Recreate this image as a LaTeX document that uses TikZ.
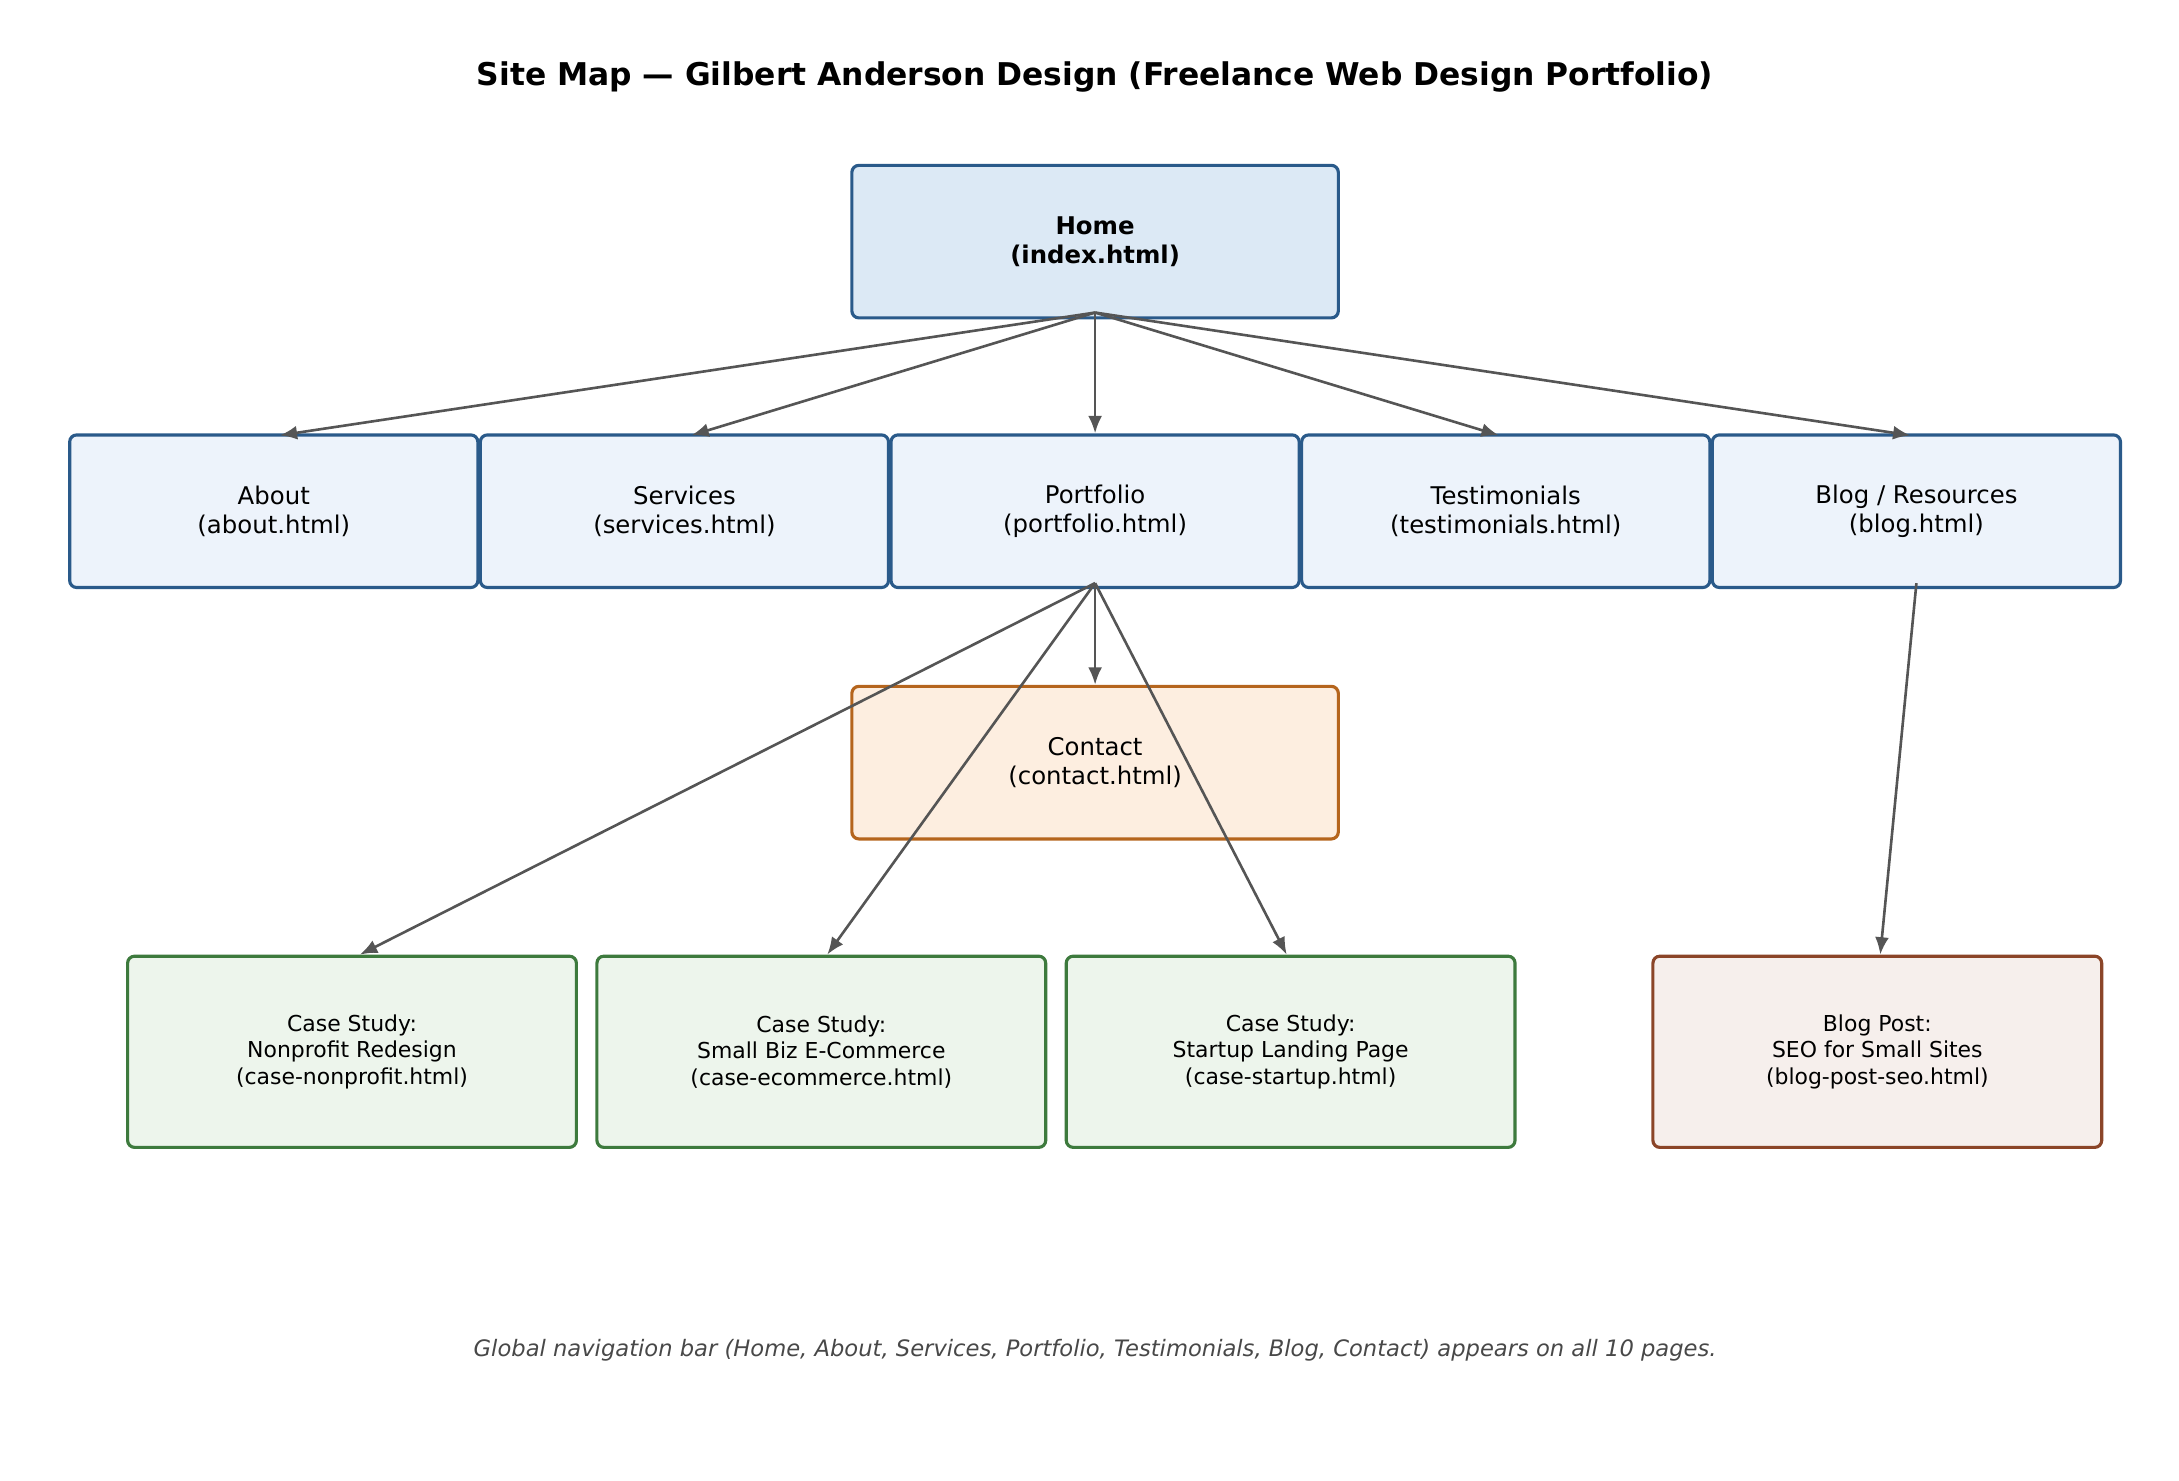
\documentclass[tikz,border=0pt]{standalone}
\usepackage{fontspec}
\setmainfont{DejaVu Sans}
\usetikzlibrary{arrows.meta}
\definecolor{HomeFill}{HTML}{DCE9F5}
\definecolor{PageFill}{HTML}{EDF3FB}
\definecolor{BlueLine}{HTML}{2A5A8A}
\definecolor{ContactFill}{HTML}{FDEEE0}
\definecolor{ContactLine}{HTML}{B5651D}
\definecolor{CaseFill}{HTML}{EDF5EC}
\definecolor{CaseLine}{HTML}{3D7A3D}
\definecolor{PostFill}{HTML}{F6EFEC}
\definecolor{PostLine}{HTML}{8B4528}
\definecolor{LinkGray}{HTML}{555555}
\tikzset{
  page/.style={draw=BlueLine,fill=PageFill,line width=0.9pt,rounded corners=2pt,
    minimum width=4.12cm,minimum height=1.54cm,align=center,font=\fontsize{7}{8.2}\selectfont},
  case/.style={page,draw=CaseLine,fill=CaseFill,minimum width=4.53cm,minimum height=1.93cm,
    font=\fontsize{6.3}{7.6}\selectfont},
  link/.style={draw=LinkGray,line width=0.75pt,-{Latex[length=5pt,width=4pt]}}
}
\begin{document}
\begin{tikzpicture}[x=0.014103cm,y=-0.014103cm]
  \useasboundingbox (0,0) rectangle (1560,1060);
  \node[font=\fontsize{9}{11}\selectfont\bfseries] (title) at (784,55)
    {Site Map — Gilbert Anderson Design (Freelance Web Design Portfolio)};
  % pages
  \node[page,fill=HomeFill,minimum width=4.91cm,font=\fontsize{7}{8.2}\selectfont\bfseries] (home) at (784,173) {Home\\(index.html)};
  \node[page] (about) at (196,366) {About\\(about.html)};
  \node[page] (services) at (490,366) {Services\\(services.html)};
  \node[page] (portfolio) at (784,366) {Portfolio\\(portfolio.html)};
  \node[page] (testimonials) at (1078,366) {Testimonials\\(testimonials.html)};
  \node[page] (blog) at (1372,366) {Blog / Resources\\(blog.html)};
  \node[page,draw=ContactLine,fill=ContactFill,minimum width=4.91cm] (contact) at (784,546) {Contact\\(contact.html)};
  \node[case] (nonprofit) at (252,753) {Case Study:\\Nonprofit Redesign\\(case-nonprofit.html)};
  \node[case] (ecommerce) at (588,753) {Case Study:\\Small Biz E-Commerce\\(case-ecommerce.html)};
  \node[case] (startup) at (924,753) {Case Study:\\Startup Landing Page\\(case-startup.html)};
  \node[case,draw=PostLine,fill=PostFill] (post) at (1344,753) {Blog Post:\\SEO for Small Sites\\(blog-post-seo.html)};
  % links
  \draw[link] ([yshift=0.07cm]home.south) -- ([xshift=0.06cm,yshift=-0.02cm]about.north);
  \draw[link] ([yshift=0.07cm]home.south) -- ([xshift=0.07cm,yshift=-0.02cm]services.north);
  \draw[link] ([yshift=0.07cm]home.south) -- (portfolio.north);
  \draw[link] ([yshift=0.07cm]home.south) -- ([xshift=-0.07cm,yshift=-0.02cm]testimonials.north);
  \draw[link] ([yshift=0.07cm]home.south) -- ([xshift=-0.06cm,yshift=-0.02cm]blog.north);
  \draw[link] ([yshift=0.06cm]portfolio.south) -- (contact.north);
  \draw[link] ([yshift=0.06cm]portfolio.south) -- ([xshift=0.08cm]nonprofit.north);
  \draw[link] ([yshift=0.06cm]portfolio.south) -- ([xshift=0.06cm]ecommerce.north);
  \draw[link] ([yshift=0.06cm]portfolio.south) -- ([xshift=-0.04cm]startup.north);
  \draw[link] ([yshift=0.06cm]blog.south) -- ([xshift=0.03cm]post.north);
  \node[font=\fontsize{6.5}{8}\selectfont\itshape,text=LinkGray!85!black] (footer) at (784,967)
    {Global navigation bar (Home, About, Services, Portfolio, Testimonials, Blog, Contact) appears on all 10 pages.};
\end{tikzpicture}
\end{document}
